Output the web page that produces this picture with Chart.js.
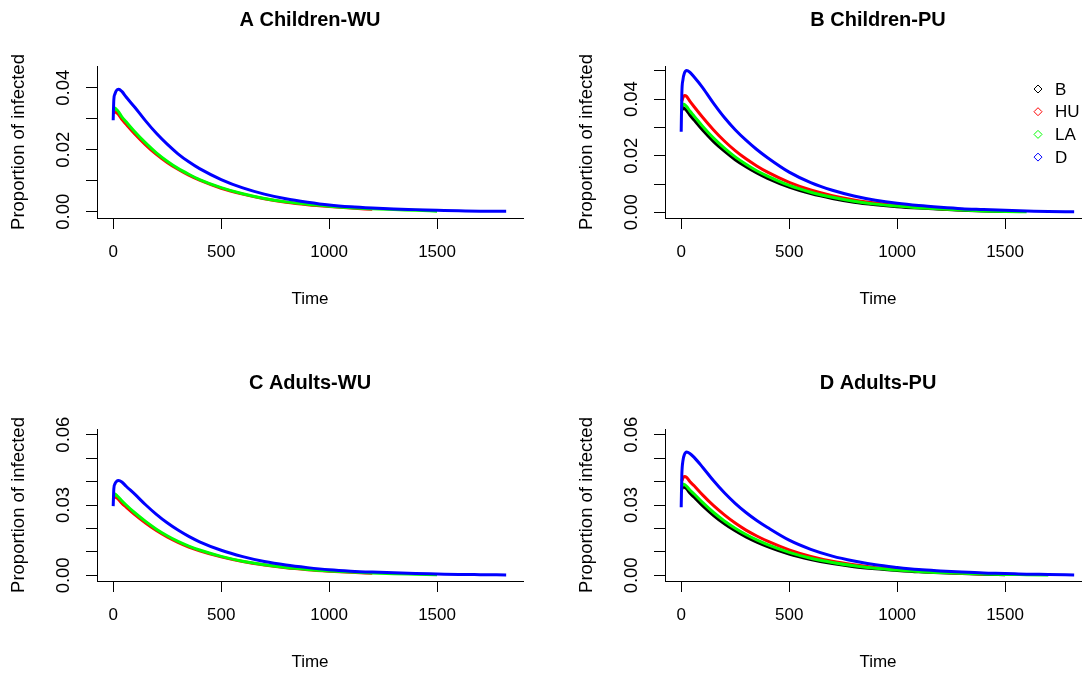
<!DOCTYPE html>
<html>
<head>
<meta charset="utf-8">
<script src="https://cdn.jsdelivr.net/npm/chart.js@4.4.1/dist/chart.umd.min.js"></script>
<style>
  html, body { margin: 0; padding: 0; background: #fff; overflow: hidden; width: 1082px; height: 675px; }
  .panel { position: absolute; }
</style>
</head>
<body>
<div class="panel" style="left:0px;top:0px"><canvas id="chartA" width="560" height="312"></canvas></div>
<div class="panel" style="left:568px;top:0px"><canvas id="chartB" width="560" height="312"></canvas></div>
<div class="panel" style="left:0px;top:363px"><canvas id="chartC" width="560" height="312"></canvas></div>
<div class="panel" style="left:568px;top:363px"><canvas id="chartD" width="560" height="312"></canvas></div>
<script>
// time (days) sampled from the curves
const days = [0, 3, 8, 15, 25, 40, 60, 100, 150, 200, 250, 300, 350, 400, 500, 600, 700, 800, 900, 1000, 1100, 1200, 1300, 1400, 1500, 1600, 1700, 1820];

const seriesNames = ['B', 'HU', 'LA', 'D'];
const panelTitles = ['A Children-WU', 'B Children-PU', 'C Adults-WU', 'D Adults-PU'];
const xTickLabels = ['0', '500', '1000', '1500'];
const yTickLabelsChildren = ['0.00', '0.02', '0.04'];
const yTickLabelsAdults = ['0.00', '0.03', '0.06'];

// A Children-WU
const childWU_HU = [null, 0.0316, 0.0326, 0.0321, 0.0313, 0.0298, 0.0282, 0.0251, 0.0216, 0.0185, 0.0159, 0.0137, 0.0118, 0.0102, 0.0076, 0.0057, 0.0042, 0.0031, 0.0023, 0.0017, 0.0012, 0.0008, null, null, null, null, null, null];
const childWU_LA = [null, 0.0326, 0.0335, 0.0330, 0.0322, 0.0306, 0.0290, 0.0258, 0.0222, 0.0190, 0.0163, 0.0140, 0.0121, 0.0104, 0.0078, 0.0058, 0.0043, 0.0032, 0.0024, 0.0018, 0.0013, 0.0010, 0.0007, 0.0005, 0.0002, null, null, null];
const childWU_D = [0.0295, 0.0362, 0.0380, 0.0391, 0.0395, 0.0388, 0.0370, 0.0337, 0.0293, 0.0253, 0.0218, 0.0187, 0.0161, 0.0139, 0.0104, 0.0077, 0.0057, 0.0042, 0.0031, 0.0022, 0.0016, 0.0012, 0.0009, 0.0007, 0.0005, 0.0003, 0.0002, 0.0002];

// B Children-PU
const childPU_B = [null, 0.0360, 0.0370, 0.0367, 0.0360, 0.0344, 0.0326, 0.0290, 0.0250, 0.0216, 0.0186, 0.0161, 0.0139, 0.0120, 0.0089, 0.0066, 0.0049, 0.0036, 0.0027, 0.0020, 0.0015, 0.0011, 0.0007, 0.0005, 0.0003, null, null, null];
const childPU_HU = [null, 0.0392, 0.0405, 0.0413, 0.0410, 0.0393, 0.0373, 0.0335, 0.0291, 0.0252, 0.0218, 0.0189, 0.0164, 0.0142, 0.0106, 0.0079, 0.0059, 0.0044, 0.0033, 0.0024, 0.0018, 0.0013, 0.0009, null, null, null, null, null];
const childPU_LA = [null, 0.0372, 0.0383, 0.0381, 0.0374, 0.0358, 0.0340, 0.0303, 0.0262, 0.0227, 0.0196, 0.0170, 0.0147, 0.0128, 0.0095, 0.0071, 0.0053, 0.0039, 0.0029, 0.0022, 0.0016, 0.0012, 0.0008, 0.0005, 0.0003, 0.0002, null, null];
const childPU_D = [0.0285, 0.0420, 0.0468, 0.0492, 0.0501, 0.0495, 0.0478, 0.0440, 0.0385, 0.0335, 0.0292, 0.0255, 0.0222, 0.0193, 0.0142, 0.0105, 0.0078, 0.0058, 0.0043, 0.0032, 0.0024, 0.0018, 0.0013, 0.0010, 0.0007, 0.0005, 0.0003, 0.0002];

// C Adults-WU
const adultWU_HU = [null, 0.0327, 0.0338, 0.0333, 0.0324, 0.0308, 0.0291, 0.0259, 0.0223, 0.0191, 0.0164, 0.0141, 0.0121, 0.0105, 0.0079, 0.0059, 0.0044, 0.0032, 0.0024, 0.0018, 0.0013, 0.0009, null, null, null, null, null, null];
const adultWU_LA = [null, 0.0336, 0.0347, 0.0342, 0.0333, 0.0318, 0.0300, 0.0267, 0.0230, 0.0197, 0.0169, 0.0145, 0.0125, 0.0108, 0.0081, 0.0060, 0.0045, 0.0033, 0.0025, 0.0019, 0.0014, 0.0010, 0.0007, 0.0005, 0.0003, null, null, null];
const adultWU_D = [0.0295, 0.0370, 0.0390, 0.0400, 0.0404, 0.0398, 0.0380, 0.0346, 0.0301, 0.0260, 0.0224, 0.0193, 0.0166, 0.0143, 0.0107, 0.0080, 0.0059, 0.0044, 0.0033, 0.0024, 0.0018, 0.0014, 0.0011, 0.0008, 0.0006, 0.0004, 0.0003, 0.0002];

// D Adults-PU
const adultPU_B = [null, 0.0368, 0.0379, 0.0376, 0.0369, 0.0351, 0.0333, 0.0296, 0.0255, 0.0220, 0.0190, 0.0164, 0.0142, 0.0123, 0.0091, 0.0068, 0.0050, 0.0037, 0.0028, 0.0021, 0.0015, 0.0011, 0.0008, 0.0005, 0.0003, null, null, null];
const adultPU_HU = [null, 0.0402, 0.0415, 0.0422, 0.0418, 0.0400, 0.0382, 0.0342, 0.0297, 0.0258, 0.0223, 0.0193, 0.0168, 0.0146, 0.0109, 0.0081, 0.0060, 0.0045, 0.0033, 0.0025, 0.0018, 0.0013, 0.0009, 0.0006, null, null, null, null];
const adultPU_LA = [null, 0.0378, 0.0390, 0.0387, 0.0380, 0.0364, 0.0347, 0.0310, 0.0268, 0.0232, 0.0201, 0.0174, 0.0151, 0.0131, 0.0098, 0.0073, 0.0055, 0.0041, 0.0030, 0.0023, 0.0017, 0.0012, 0.0009, 0.0006, 0.0004, 0.0003, 0.0002, null];
const adultPU_D = [0.0290, 0.0430, 0.0488, 0.0515, 0.0526, 0.0520, 0.0503, 0.0460, 0.0403, 0.0352, 0.0307, 0.0268, 0.0234, 0.0204, 0.0150, 0.0111, 0.0082, 0.0061, 0.0045, 0.0034, 0.0025, 0.0019, 0.0014, 0.0010, 0.0008, 0.0005, 0.0004, 0.0002];

const colors = { B: '#000000', HU: '#ff0000', LA: '#00ff00', D: '#0000ff' };
const drawOrder = { B: 4, HU: 3, LA: 2, D: 1 }; // D painted last, like the R plot

Chart.defaults.font.family = '"Liberation Sans", Arial, sans-serif';
Chart.defaults.color = '#000';

// R style legend with open diamonds, top right of the plot
const diamondLegend = {
    id: 'diamondLegend',
    afterDraw(chart) {
        const ctx = chart.ctx;
        ctx.save();
        ctx.font = '17px "Liberation Sans", Arial, sans-serif';
        ctx.textBaseline = 'middle';
        ctx.textAlign = 'left';
        chart.data.datasets.forEach((ds, i) => {
            const x = 470, y = 89 + i * 22.7;
            ctx.strokeStyle = ds.borderColor;
            ctx.lineWidth = 1;
            ctx.beginPath();
            ctx.moveTo(x, y - 4);
            ctx.lineTo(x + 4, y);
            ctx.lineTo(x, y + 4);
            ctx.lineTo(x - 4, y);
            ctx.closePath();
            ctx.stroke();
            ctx.fillStyle = '#000';
            ctx.fillText(ds.label, x + 17, y + 1);
        });
        ctx.restore();
    }
};

const drawPanel = (id, title, names, values, yMin, yMax, yLabels, withLegend) => {
    const datasets = names.map((name, k) => ({
        label: name,
        data: days.map((d, i) => ({ x: d, y: values[k][i] })).filter(p => p.y !== null),
        borderColor: colors[name],
        borderWidth: 3,
        pointRadius: 0,
        fill: false,
        cubicInterpolationMode: 'monotone',
        order: drawOrder[name]
    }));
    new Chart(document.getElementById(id), {
        type: 'line',
        data: { datasets: datasets },
        options: {
            responsive: false,
            animation: false,
            layout: { padding: { left: 0, top: 0, right: 37, bottom: 0 } },
            plugins: {
                legend: { display: false },
                tooltip: { enabled: false },
                title: {
                    display: true,
                    text: title,
                    fullSize: false,
                    font: { size: 20, weight: 'bold' },
                    padding: { top: 8, bottom: 34 }
                }
            },
            scales: {
                x: {
                    type: 'linear',
                    min: -75,
                    max: 1898,
                    afterFit: s => { s.height = 94; },
                    afterBuildTicks: s => { s.ticks = xTickLabels.map(t => ({ value: Number(t) })); },
                    border: { display: true, color: '#000', width: 1 },
                    grid: { drawOnChartArea: false, drawTicks: true, tickLength: 11, color: '#000' },
                    ticks: {
                        autoSkip: false,
                        maxRotation: 0,
                        padding: 13,
                        font: { size: 17 },
                        callback: v => String(v)
                    },
                    title: { display: true, text: 'Time', font: { size: 17 }, padding: { top: 0, bottom: 2 } }
                },
                y: {
                    type: 'linear',
                    min: yMin,
                    max: yMax,
                    afterFit: s => { s.width = 97; },
                    border: { display: true, color: '#000', width: 1 },
                    grid: { drawOnChartArea: false, drawTicks: true, tickLength: 11, color: '#000' },
                    ticks: {
                        stepSize: 0.01,
                        includeBounds: false,
                        autoSkip: false,
                        minRotation: 90,
                        maxRotation: 90,
                        crossAlign: 'center',
                        padding: 4,
                        font: { size: 18.5 },
                        callback: v => yLabels.includes(v.toFixed(2)) ? v.toFixed(2) : ''
                    },
                    title: { display: true, text: 'Proportion of infected', font: { size: 18.5 }, padding: { top: 8, bottom: 0 } }
                }
            }
        },
        plugins: withLegend ? [diamondLegend] : []
    });
};

drawPanel('chartA', panelTitles[0], ['HU', 'LA', 'D'], [childWU_HU, childWU_LA, childWU_D], -0.002, 0.047, yTickLabelsChildren, false);
drawPanel('chartB', panelTitles[1], seriesNames, [childPU_B, childPU_HU, childPU_LA, childPU_D], -0.002, 0.0517, yTickLabelsChildren, true);
drawPanel('chartC', panelTitles[2], ['HU', 'LA', 'D'], [adultWU_HU, adultWU_LA, adultWU_D], -0.0024, 0.0624, yTickLabelsAdults, false);
drawPanel('chartD', panelTitles[3], seriesNames, [adultPU_B, adultPU_HU, adultPU_LA, adultPU_D], -0.0024, 0.0624, yTickLabelsAdults, false);
</script>
</body>
</html>
